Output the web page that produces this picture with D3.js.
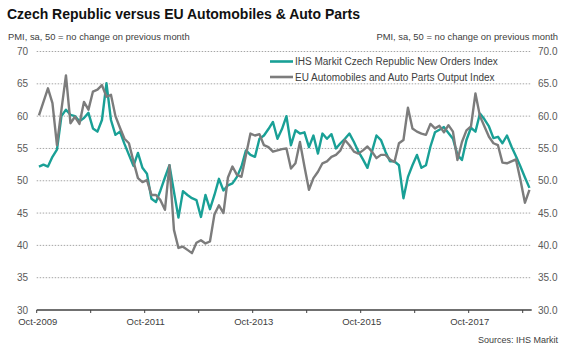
<!DOCTYPE html>
<html>
<head>
<meta charset="utf-8">
<script src="https://cdn.jsdelivr.net/npm/d3@7"></script>
<style>
  body { margin: 0; background: #fff; }
  svg { display: block; font-family: Arial, "Liberation Sans", sans-serif; }
</style>
</head>
<body>
<svg id="chart"></svg>
<script>
const width = 575;
const height = 362;

// monthly, Oct-2009 .. Nov-2018
const czechOrders = [
  52.2, 52.5, 52.2, 53.7, 54.8, 60.0, 61.0, 60.2, 60.0, 59.2,
  59.7, 60.5, 58.1, 57.6, 59.4, 65.1, 59.4, 57.1, 57.6, 55.7,
  54.0, 52.3, 54.3, 52.0, 51.1, 47.2, 46.7, 48.5, 50.5, 52.4,
  48.3, 44.3, 48.4, 47.8, 47.3, 47.0, 44.4, 47.8, 45.6, 47.8,
  50.3, 48.5, 49.3, 49.6, 50.6, 52.2, 54.7, 54.0, 53.7, 56.5,
  57.0, 58.0, 59.1, 56.5, 58.0, 60.0, 55.5, 57.8, 57.3, 57.5,
  55.2, 57.0, 54.2, 57.3, 56.5, 57.2, 55.0, 55.8, 56.5, 57.3,
  56.0, 54.5, 53.3, 52.0, 54.5, 57.0, 56.3, 54.5, 53.0, 53.0,
  52.4, 47.3, 50.6, 52.4, 54.0, 52.0, 52.4, 55.3, 57.5, 57.9,
  58.3, 57.4, 56.5, 54.0, 53.2, 56.3, 58.2, 57.6, 60.4, 59.5,
  58.4, 56.6, 56.8, 55.8, 57.0, 55.3, 53.8, 52.2, 50.5, 48.9
];

const euAutos = [
  60.1, 62.2, 64.3, 62.0, 55.5, 61.0, 66.3, 58.9, 59.9, 58.8,
  62.2, 61.0, 63.8, 64.1, 64.8, 63.0, 63.3, 60.0, 58.2, 56.5,
  55.8, 53.0, 50.4, 49.8, 50.1, 47.8, 47.8, 47.0, 45.5, 52.4,
  42.4, 39.6, 39.8, 39.3, 38.8, 40.4, 40.8, 40.3, 40.6, 44.8,
  46.2, 45.0, 50.5, 52.2, 50.9, 50.6, 54.0, 57.3, 57.0, 57.2,
  55.5, 55.2, 54.5, 54.7, 54.9, 55.0, 51.9, 52.7, 56.0, 52.2,
  48.6, 50.4, 51.4, 52.7, 53.0, 53.7, 54.0, 54.7, 56.3, 55.5,
  54.5, 54.2, 54.7, 55.3, 54.5, 53.5, 54.0, 54.0, 53.3, 52.9,
  55.8, 56.3, 61.3, 58.1, 57.6, 57.3, 57.1, 58.8, 58.1, 58.5,
  57.5, 58.6, 57.6, 53.2, 56.0, 57.8, 58.4, 63.5, 60.0, 58.4,
  56.8, 55.8, 55.5, 52.8, 52.7, 53.0, 53.3, 50.1, 46.6, 48.6
];

const months = d3.timeMonth.range(new Date(2009, 9, 1), new Date(2018, 11, 1));
const yTicks = [30, 35, 40, 45, 50, 55, 60, 65, 70];
const xLabels = ["Oct-2009", "Oct-2011", "Oct-2013", "Oct-2015", "Oct-2017"];

const seriesNames = [
  "IHS Markit Czech Republic New Orders Index",
  "EU Automobiles and Auto Parts Output Index"
];
const teal = "#19a096";
const grey = "#7c7c7c";

const svg = d3.select("#chart")
  .attr("width", width)
  .attr("height", height);

const x = d3.scaleBand()
  .domain(months)
  .range([36.7, 531.7]);

const y = d3.scaleLinear()
  .domain([30, 70])
  .range([310, 51.5]);

const fmtMonth = d3.timeFormat("%b-%Y");
const cx = d => x(d) + x.bandwidth() / 2;

// gridlines
svg.append("g")
  .selectAll("line")
  .data(yTicks.slice(1))
  .join("line")
  .attr("x1", 36.7)
  .attr("x2", 531.7)
  .attr("y1", d => y(d))
  .attr("y2", d => y(d))
  .attr("stroke", "#a6a6a6")
  .attr("stroke-width", 1)
  .attr("stroke-dasharray", "1.5,1.5");

// left / right value labels
svg.append("g")
  .selectAll("text")
  .data(yTicks)
  .join("text")
  .attr("x", 28)
  .attr("y", d => y(d) + 3.5)
  .attr("text-anchor", "end")
  .attr("font-size", 10)
  .attr("fill", "#595959")
  .text(d => d);

svg.append("g")
  .selectAll("text")
  .data(yTicks)
  .join("text")
  .attr("x", 538)
  .attr("y", d => y(d) + 3.5)
  .attr("font-size", 10)
  .attr("fill", "#595959")
  .text(d3.format(".1f"));

// x axis
const octs = months.filter(d => d.getMonth() === 9);

svg.append("line")
  .attr("x1", 36.7)
  .attr("x2", 531.7)
  .attr("y1", y(30))
  .attr("y2", y(30))
  .attr("stroke", "#404040")
  .attr("stroke-width", 1.3);

svg.append("g")
  .selectAll("line")
  .data(octs)
  .join("line")
  .attr("x1", d => x(d))
  .attr("x2", d => x(d))
  .attr("y1", y(30))
  .attr("y2", y(30) + 3)
  .attr("stroke", "#404040");

svg.append("g")
  .selectAll("text")
  .data(octs.filter(d => xLabels.includes(fmtMonth(d))))
  .join("text")
  .attr("x", d => x(d) + 1)
  .attr("y", 325)
  .attr("text-anchor", "middle")
  .attr("font-size", 9.5)
  .attr("fill", "#404040")
  .text(d => fmtMonth(d));

// lines
const line = values => d3.line()
  .x((d, i) => cx(months[i]))
  .y(d => y(d))(values);

svg.append("path")
  .attr("d", line(czechOrders))
  .attr("fill", "none")
  .attr("stroke", teal)
  .attr("stroke-width", 2.4)
  .attr("stroke-linejoin", "round");

svg.append("path")
  .attr("d", line(euAutos))
  .attr("fill", "none")
  .attr("stroke", grey)
  .attr("stroke-width", 2.4)
  .attr("stroke-linejoin", "round");

// legend
const legend = svg.append("g")
  .selectAll("g")
  .data(seriesNames)
  .join("g")
  .attr("transform", (d, i) => `translate(270, ${61.5 + i * 15.5})`);

legend.append("line")
  .attr("x1", 0)
  .attr("x2", 23)
  .attr("stroke", (d, i) => i === 0 ? teal : grey)
  .attr("stroke-width", 2.6);

legend.append("text")
  .attr("x", 25)
  .attr("y", 3.5)
  .attr("font-size", 10)
  .attr("fill", "#404040")
  .text(d => d);

// titles
svg.append("text")
  .attr("x", 7)
  .attr("y", 19)
  .attr("font-size", 14)
  .attr("font-weight", "bold")
  .attr("fill", "#111")
  .text("Czech Republic versus EU Automobiles & Auto Parts");

svg.append("text")
  .attr("x", 8)
  .attr("y", 40)
  .attr("font-size", 9.4)
  .attr("fill", "#404040")
  .text("PMI, sa, 50 = no change on previous month");

svg.append("text")
  .attr("x", 558)
  .attr("y", 40)
  .attr("text-anchor", "end")
  .attr("font-size", 9.4)
  .attr("fill", "#404040")
  .text("PMI, sa, 50 = no change on previous month");

svg.append("text")
  .attr("x", 558)
  .attr("y", 343)
  .attr("text-anchor", "end")
  .attr("font-size", 9)
  .attr("fill", "#404040")
  .text("Sources: IHS Markit");
</script>
</body>
</html>
